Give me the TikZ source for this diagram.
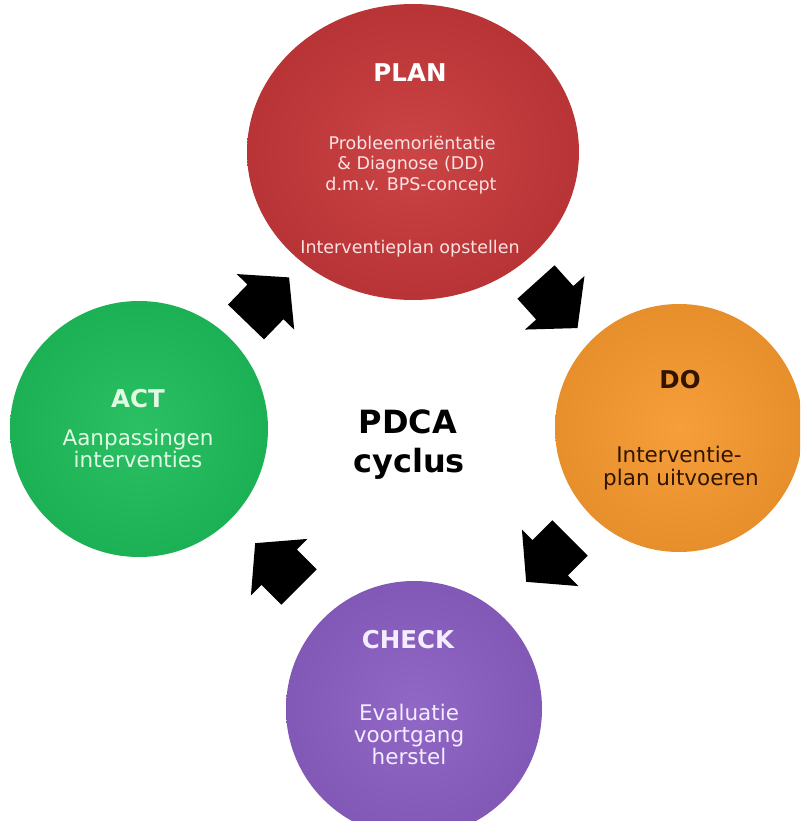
\documentclass[tikz,border=0pt]{standalone}
\usepackage{fontspec}
\setmainfont{DejaVu Sans}
\usetikzlibrary{shapes.geometric}
\definecolor{planred}{RGB}{200,56,58}
\definecolor{doorange}{RGB}{245,152,46}
\definecolor{actgreen}{RGB}{30,188,90}
\definecolor{checkpurple}{RGB}{138,94,194}
\definecolor{plantext}{RGB}{252,226,226}
\definecolor{dotext}{RGB}{48,20,0}
\definecolor{acttext}{RGB}{225,250,228}
\definecolor{checktext}{RGB}{244,236,255}
\begin{document}
\begin{tikzpicture}[x=1pt,y=-1pt,
  ball/.style={ellipse, draw=none, inner sep=0pt},
  ttl/.style={anchor=base, inner sep=0pt, font=\bfseries\fontsize{24.5}{28}\selectfont},
  txt/.style={anchor=base, inner sep=0pt, font=\fontsize{21.5}{24}\selectfont},
  sml/.style={anchor=base, inner sep=0pt, font=\fontsize{17.5}{20}\selectfont},
  big/.style={anchor=base, inner sep=0pt, font=\bfseries\fontsize{32}{36}\selectfont},
  blockarrow/.pic={\fill[black] (0,-25) -- (28,-25) -- (28,-40) -- (62,0) -- (28,40) -- (28,25) -- (0,25) -- cycle;}]
\useasboundingbox (0,0) rectangle (800,821);
\clip (0,0) rectangle (800,821);
\fill[white] (0,0) rectangle (800,821);

% circles
\node[ball, minimum width=332pt, minimum height=296pt,
  inner color=planred!94!white, outer color=planred!92!black] (plan) at (413,152) {};
\node[ball, minimum width=248pt, minimum height=248pt,
  inner color=doorange!94!white, outer color=doorange!94!black] (do) at (679,428) {};
\node[ball, minimum width=256pt, minimum height=256pt,
  inner color=checkpurple!94!white, outer color=checkpurple!94!black] (check) at (414,709) {};
\node[ball, minimum width=258pt, minimum height=256pt,
  inner color=actgreen!94!white, outer color=actgreen!94!black] (act) at (139,429) {};

% texts PLAN
\node[ttl, text=white] (plant) at (410,82) {PLAN};
\node[sml, text=plantext] (plan1) at (412,150) {Probleemoriëntatie};
\node[sml, text=plantext] (plan2) at (411,170) {\& Diagnose (DD)};
\node[sml, text=plantext] (plan3) at (411,190) {d.m.v. BPS-concept};
\node[sml, text=plantext] (plan4) at (410,253) {Interventieplan opstellen};

% texts DO
\node[ttl, text=dotext] (dot) at (680,388) {DO};
\node[txt, text=dotext] (do1) at (679,462) {Interventie-};
\node[txt, text=dotext] (do2) at (681,485) {plan uitvoeren};

% texts ACT
\node[ttl, text=acttext] (actt) at (138,407) {ACT};
\node[txt, text=acttext] (act1) at (138,445) {Aanpassingen};
\node[txt, text=acttext] (act2) at (138,467) {interventies};

% texts CHECK
\node[ttl, text=checktext] (checkt) at (408,648) {CHECK};
\node[txt, text=checktext] (check1) at (409,720) {Evaluatie};
\node[txt, text=checktext] (check2) at (409,742) {voortgang};
\node[txt, text=checktext] (check3) at (409,764) {herstel};

% centre
\node[big, text=black] (pdca1) at (408,433) {PDCA};
\node[big, text=black] (pdca2) at (409,472) {cyclus};

% block arrows
\pic[rotate=-48] at (536,282) {blockarrow};
\pic[rotate=-135] at (570,538) {blockarrow};
\pic[rotate=135] at (299,587) {blockarrow};
\pic[rotate=46] at (246,322) {blockarrow};
\end{tikzpicture}
\end{document}
